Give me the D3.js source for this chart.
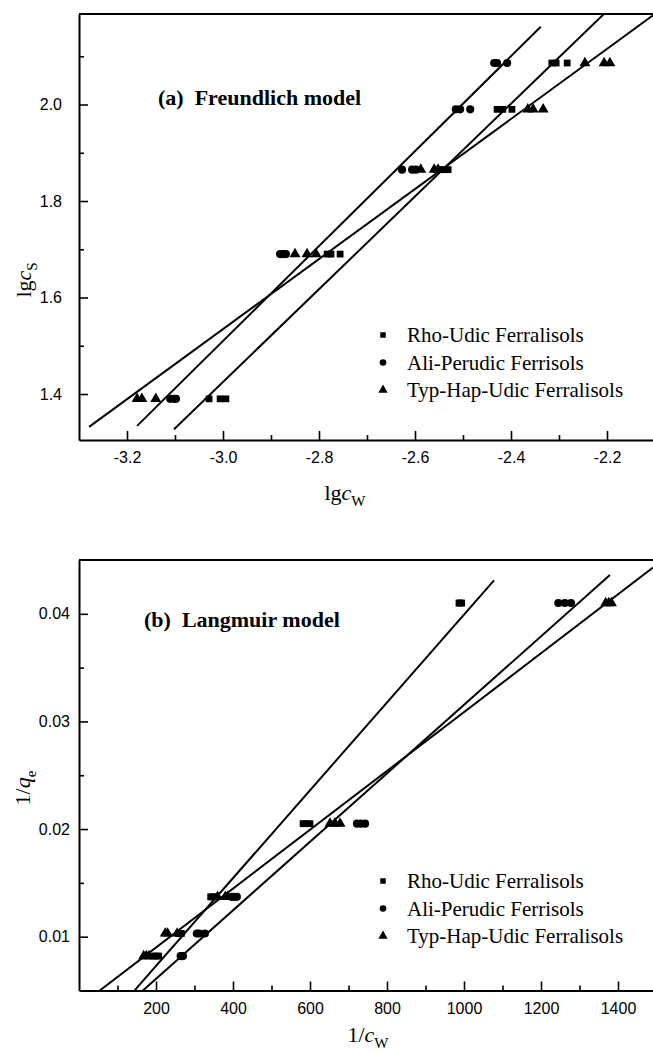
<!DOCTYPE html>
<html>
<head>
<meta charset="utf-8">
<script src="https://cdn.jsdelivr.net/npm/d3@7/dist/d3.min.js"></script>
<style>
  html, body { margin: 0; padding: 0; background: #fff; }
  svg { display: block; }
  .tick text { font-family: "Liberation Sans", Arial, sans-serif; font-size: 16px; fill: #000; }
</style>
</head>
<body>
<div id="chart"></div>
<script>
/* isotherm fits — Freundlich (a) over Langmuir (b) */

/* ---------------- DATA ---------------- */
const SERIES = ["Rho-Udic Ferralisols", "Ali-Perudic Ferrisols", "Typ-Hap-Udic Ferralisols"];

// (a) Freundlich: lg cs (same levels for the three soils) vs lg cw
const frLgcs = [1.39,1.39,1.39, 1.69,1.69,1.69, 1.865,1.865,1.865, 1.99,1.99,1.99, 2.086,2.086,2.086];
const frRhoLgcw = [-3.029,-3.006,-2.994, -2.783,-2.775,-2.756, -2.548,-2.540,-2.531, -2.429,-2.417,-2.398, -2.315,-2.306,-2.283];
const frAliLgcw = [-3.110,-3.102,-3.098, -2.881,-2.875,-2.869, -2.627,-2.606,-2.598, -2.515,-2.506,-2.485, -2.435,-2.429,-2.408];
const frTypLgcw = [-3.179,-3.169,-3.140, -2.850,-2.825,-2.806, -2.588,-2.560,-2.552, -2.365,-2.354,-2.333, -2.246,-2.206,-2.194];
// fitted lines, endpoints as drawn [lgcw, lgcs]
const frRhoFit = [[-3.102, 1.327], [-2.206, 2.188]];
const frAliFit = [[-3.179, 1.334], [-2.338, 2.161]];
const frTypFit = [[-3.279, 1.332], [-2.104, 2.185]];
const frXTicks = [-3.2, -3.0, -2.8, -2.6, -2.4, -2.2];
const frXMinor = [-3.1, -2.9, -2.7, -2.5, -2.3, -2.1];
const frYTicks = [1.4, 1.6, 1.8, 2.0];
const frYMinor = [1.5, 1.7, 1.9, 2.1];

// (b) Langmuir: 1/qe vs 1/cw
const lgInvQe = [0.0410,0.0410,0.0410, 0.0205,0.0205,0.0205, 0.0137,0.0137,0.0137, 0.0103,0.0103,0.0103, 0.0082,0.0082,0.0082];
const lgRhoInvCw = [987, 990, 994, 582, 590, 600, 342, 347, 352, 258, 262, 266, 192, 200, 207];
const lgAliInvCw = [1245, 1262, 1278, 722, 732, 743, 396, 402, 410, 306, 312, 327, 264, 267, 270];
const lgTypInvCw = [1368, 1376, 1383, 652, 665, 678, 360, 380, 386, 224, 230, 255, 168, 175, 182];
const lgRhoFit = [[145, 0.00504], [1078, 0.0431]];
const lgAliFit = [[166, 0.00500], [1379, 0.0436]];
const lgTypFit = [[54, 0.00500], [1491, 0.0443]];
const lgXTicks = [200, 400, 600, 800, 1000, 1200, 1400];
const lgXMinor = [100, 300, 500, 700, 900, 1100, 1300, 1500];
const lgYTicks = [0.01, 0.02, 0.03, 0.04];
const lgYMinor = [0.015, 0.025, 0.035];

(() => {
  /* ---------------- CONSTANTS ---------------- */
  const W = 653, H = 1053;
  const SYMBOLS = [d3.symbolSquare, d3.symbolCircle, d3.symbolTriangle];
  const SYM_SIZE = [46, 52, 52], LEG_SIZE = [30, 34, 38];
  const SERIF = "'Liberation Serif', 'Times New Roman', serif";

  // plain hyphen for negatives, like the original plot
  const fmt = spec => { const f = d3.format(spec); return v => f(v).replace("\u2212", "-"); };

  const svg = d3.select("#chart").append("svg")
    .attr("width", W).attr("height", H);

  const pts = (xs, ys) => xs.map((x, i) => ({x, y: ys[i]}));

  /* ---------------- PANEL ---------------- */
  function panel(cfg) {
    const x = d3.scaleLinear().domain(cfg.xDomain).range(cfg.xRange);
    const y = d3.scaleLinear().domain(cfg.yDomain).range(cfg.yRange);
    const [x0, x1] = cfg.xRange, [yb, yt] = cfg.yRange;
    const g = svg.append("g");

    g.append("clipPath").attr("id", cfg.id + "-clip")
      .append("rect").attr("x", x0).attr("y", yt).attr("width", x1 - x0).attr("height", yb - yt);

    // minor + major ticks (inward)
    g.append("g").attr("transform", `translate(0,${yb})`)
      .call(d3.axisBottom(x).tickValues(cfg.xMinor).tickSize(-5).tickSizeOuter(0).tickFormat(""))
      .call(a => a.select(".domain").remove())
      .selectAll("line").attr("stroke-width", 1.6);
    g.append("g").attr("transform", `translate(${x0},0)`)
      .call(d3.axisLeft(y).tickValues(cfg.yMinor).tickSize(-5).tickSizeOuter(0).tickFormat(""))
      .call(a => a.select(".domain").remove())
      .selectAll("line").attr("stroke-width", 1.6);

    const xa = g.append("g").attr("transform", `translate(0,${yb})`)
      .call(d3.axisBottom(x).tickValues(cfg.xTicks).tickSize(-9).tickSizeOuter(0)
        .tickPadding(12).tickFormat(cfg.xFmt));
    xa.select(".domain").attr("stroke-width", 2);
    xa.selectAll("line").attr("stroke-width", 1.6);

    const ya = g.append("g").attr("transform", `translate(${x0},0)`)
      .call(d3.axisLeft(y).tickValues(cfg.yTicks).tickSize(-9).tickSizeOuter(0)
        .tickPadding(cfg.yPad).tickFormat(cfg.yFmt));
    ya.select(".domain").attr("stroke-width", 2);
    ya.selectAll("line").attr("stroke-width", 1.6);

    // top frame line
    g.append("line").attr("x1", x0).attr("x2", x1).attr("y1", yt).attr("y2", yt)
      .attr("stroke", "#000").attr("stroke-width", 2);

    // fits
    const line = d3.line().x(d => x(d[0])).y(d => y(d[1]));
    g.append("g").attr("clip-path", `url(#${cfg.id}-clip)`)
      .selectAll("path").data(cfg.fits).join("path")
      .attr("d", line).attr("fill", "none").attr("stroke", "#000").attr("stroke-width", 2);

    // points
    cfg.series.forEach((s, i) => {
      g.append("g").selectAll("path").data(s).join("path")
        .attr("transform", d => `translate(${x(d.x)},${y(d.y)})`)
        .attr("d", d3.symbol(SYMBOLS[i], SYM_SIZE[i]))
        .attr("fill", "#000");
    });

    // title
    g.append("text").attr("x", cfg.title.x).attr("y", cfg.title.y)
      .attr("font-family", SERIF).attr("font-size", 22).attr("font-weight", "bold")
      .style("white-space", "pre")
      .text(cfg.title.text);

    // legend
    const leg = g.append("g");
    SERIES.forEach((name, i) => {
      const ly = cfg.legend.y + i * 27.5;
      leg.append("path")
        .attr("transform", `translate(${cfg.legend.x},${ly - 7})`)
        .attr("d", d3.symbol(SYMBOLS[i], LEG_SIZE[i])).attr("fill", "#000");
      leg.append("text").attr("x", cfg.legend.x + 24).attr("y", ly)
        .attr("font-family", SERIF).attr("font-size", 21).text(name);
    });

    // axis titles
    const xt = g.append("text").attr("x", cfg.xLabel.x).attr("y", cfg.xLabel.y)
      .attr("text-anchor", "middle").attr("font-family", SERIF).attr("font-size", 22);
    cfg.xLabel.parts(xt);
    const yt2 = g.append("text")
      .attr("transform", `translate(${cfg.yLabel.x},${cfg.yLabel.y}) rotate(-90)`)
      .attr("text-anchor", "middle").attr("font-family", SERIF).attr("font-size", 22);
    cfg.yLabel.parts(yt2);
  }

  // builds "pre + italic var + subscript"
  const label = (pre, v, sub) => t => {
    t.append("tspan").text(pre);
    t.append("tspan").attr("font-style", "italic").text(v);
    t.append("tspan").attr("font-size", 15).attr("dy", 6).text(sub);
  };

  panel({
    id: "fr",
    xDomain: [-3.3, -2.1], xRange: [79, 655],
    yDomain: [1.3047, 2.1876], yRange: [440, 14],
    xTicks: frXTicks, xMinor: frXMinor, yTicks: frYTicks, yMinor: frYMinor,
    xFmt: fmt(".1f"), yFmt: fmt(".1f"), yPad: 17,
    series: [pts(frRhoLgcw, frLgcs), pts(frAliLgcw, frLgcs), pts(frTypLgcw, frLgcs)],
    fits: [frRhoFit, frAliFit, frTypFit],
    title: {x: 158, y: 105, text: "(a)  Freundlich model"},
    legend: {x: 383, y: 342},
    xLabel: {x: 345, y: 500, parts: label("lg", "c", "W")},
    yLabel: {x: 31, y: 280, parts: label("lg", "c", "S")}
  });

  panel({
    id: "lg",
    xDomain: [0, 1500], xRange: [79, 656.5],
    yDomain: [0.005, 0.045], yRange: [990.5, 560],
    xTicks: lgXTicks, xMinor: lgXMinor, yTicks: lgYTicks, yMinor: lgYMinor,
    xFmt: fmt("d"), yFmt: fmt(".2f"), yPad: 9,
    series: [pts(lgRhoInvCw, lgInvQe), pts(lgAliInvCw, lgInvQe), pts(lgTypInvCw, lgInvQe)],
    fits: [lgRhoFit, lgAliFit, lgTypFit],
    title: {x: 144, y: 627, text: "(b)  Langmuir model"},
    legend: {x: 383, y: 888},
    xLabel: {x: 368, y: 1042, parts: label("1/", "c", "W")},
    yLabel: {x: 30, y: 788, parts: label("1/", "q", "e")}
  });
})();
</script>
</body>
</html>
